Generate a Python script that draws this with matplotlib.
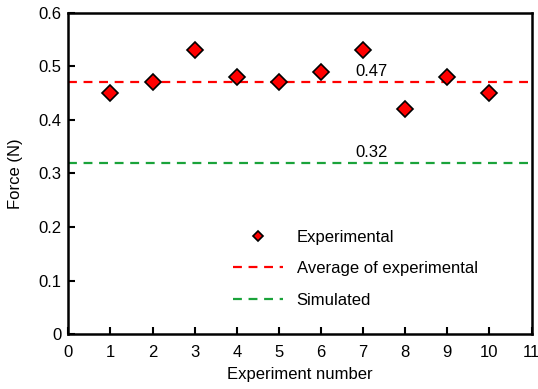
import matplotlib.pyplot as plt

plt.rcParams['font.family'] = ['Liberation Sans', 'DejaVu Sans']

# Data
experiment = [1, 2, 3, 4, 5, 6, 7, 8, 9, 10]
force = [0.45, 0.47, 0.53, 0.48, 0.47, 0.49, 0.53, 0.42, 0.48, 0.45]
avg_force = 0.47
sim_force = 0.32

fig = plt.figure(figsize=(5.38, 3.89), dpi=100)
ax = fig.add_axes([0.127, 0.141, 0.861, 0.826])

ax.plot(experiment, force, linestyle='none', marker='D', markersize=8,
        markerfacecolor='red', markeredgecolor='black', markeredgewidth=1.2,
        label='Experimental', zorder=3)
ax.axhline(avg_force, color='red', linestyle=(0, (4, 3)), linewidth=1.6,
           label='Average of experimental')
ax.axhline(sim_force, color='#1aa33a', linestyle=(0, (4, 3)), linewidth=1.6,
           label='Simulated')

ax.text(7.2, avg_force + 0.006, '0.47', fontsize=12, ha='center', va='bottom')
ax.text(7.2, sim_force + 0.006, '0.32', fontsize=12, ha='center', va='bottom')

ax.set_xlim(0, 11)
ax.set_ylim(0, 0.6)
ax.set_xticks(range(0, 12))
ax.set_yticks([0, 0.1, 0.2, 0.3, 0.4, 0.5, 0.6])
ax.set_yticklabels(['0', '0.1', '0.2', '0.3', '0.4', '0.5', '0.6'])
ax.tick_params(direction='in', length=5, width=1.5, labelsize=12,
               top=False, right=False)
ax.tick_params(axis='x', pad=8)
ax.tick_params(axis='y', pad=5)
for s in ax.spines.values():
    s.set_linewidth(1.8)

ax.set_xlabel('Experiment number', fontsize=12, labelpad=5)
ax.set_ylabel('Force (N)', fontsize=12, labelpad=11)

ax.legend(loc='lower left', bbox_to_anchor=(0.3235, 0.035), frameon=False,
          fontsize=12, markerscale=0.7, handlelength=3.0,
          handletextpad=0.8, labelspacing=1.0)

plt.savefig('out.png', dpi=100)
